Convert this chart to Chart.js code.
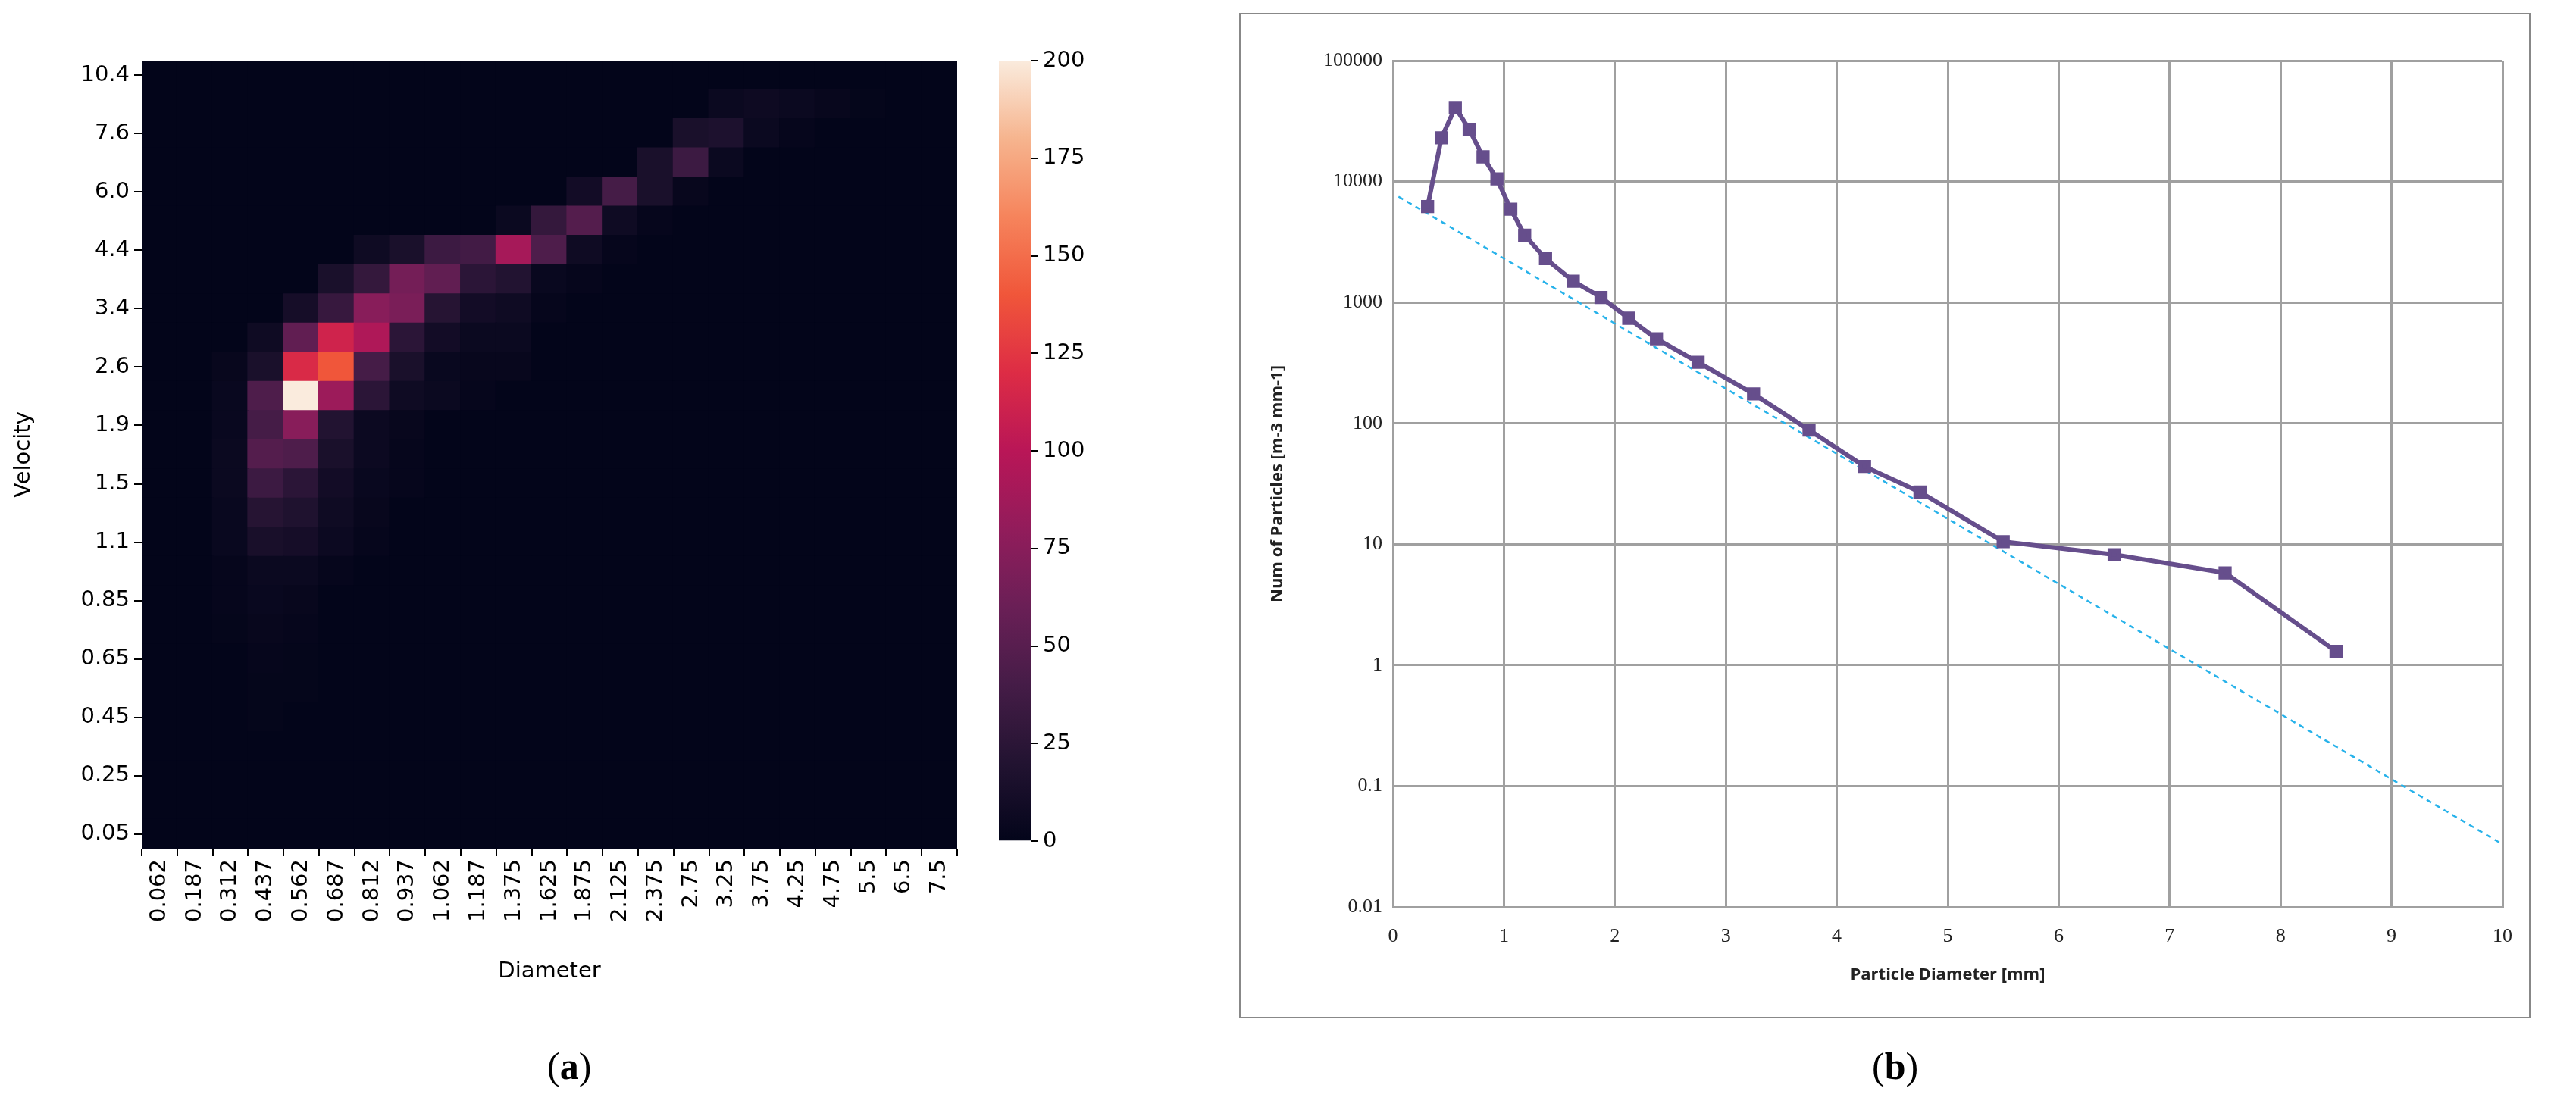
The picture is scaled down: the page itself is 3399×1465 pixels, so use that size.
<!DOCTYPE html>
<html><head><meta charset="utf-8">
<script src="https://cdn.jsdelivr.net/npm/chart.js@4"></script>
<style>
body{margin:0;width:3399px;height:1465px;background:#fff;position:relative;overflow:hidden}
canvas{position:absolute}
.lab{position:absolute;font-family:"Liberation Serif",serif;font-size:50px;color:#000}
#box{position:absolute;left:1635px;top:17px;width:1700px;height:1323px;border:2px solid #888}
</style></head><body>
<div id="box"></div>
<canvas id="hm" width="1300" height="1465" style="left:0;top:0"></canvas>
<canvas id="cb" width="220" height="1465" style="left:1318px;top:0"></canvas>
<canvas id="ln" width="1704" height="1327" style="left:1635px;top:17px"></canvas>
<div class="lab" style="left:722px;top:1378px">(<b>a</b>)</div>
<div class="lab" style="left:2470px;top:1378px">(<b>b</b>)</div>
<script>
const diameters=['0.062','0.187','0.312','0.437','0.562','0.687','0.812','0.937','1.062','1.187','1.375','1.625','1.875','2.125','2.375','2.75','3.25','3.75','4.25','4.75','5.5','6.5','7.5'];
// velocity classes, bottom to top
const velocities=['0.05','0.15','0.25','0.35','0.45','0.55','0.65','0.75','0.85','0.95','1.1','1.3','1.5','1.7','1.9','2.2','2.6','3.0','3.4','3.8','4.4','5.2','6.0','6.8','7.6','8.8','10.4'];
// counts, rows listed from top (10.4) to bottom (0.05), columns = diameters
const counts=[
[0,0,0,0,0,0,0,0,0,0,0,0,0,0,0,0,0,0,0,0,0,0,0],
[0,0,0,0,0,0,0,0,0,0,0,0,0,0,0,0,5,7,5,3,1,0,0],
[0,0,0,0,0,0,0,0,0,0,0,0,0,0,0,15,17,5,2,0,0,0,0],
[0,0,0,0,0,0,0,0,0,0,0,0,0,0,15,35,5,0,0,0,0,0,0],
[0,0,0,0,0,0,0,0,0,0,0,0,10,40,15,3,0,0,0,0,0,0,0],
[0,0,0,0,0,0,0,0,0,0,5,30,48,8,2,0,0,0,0,0,0,0,0],
[0,0,0,0,0,0,8,15,35,38,90,45,8,2,0,0,0,0,0,0,0,0,0],
[0,0,0,0,0,15,30,65,55,25,20,4,2,0,0,0,0,0,0,0,0,0,0],
[0,0,0,0,12,32,75,68,22,10,8,2,0,0,0,0,0,0,0,0,0,0,0],
[0,0,0,8,55,112,95,25,10,5,5,0,0,0,0,0,0,0,0,0,0,0,0],
[0,0,3,15,118,140,40,15,4,3,3,0,0,0,0,0,0,0,0,0,0,0,0],
[0,0,4,45,200,85,25,8,5,2,0,0,0,0,0,0,0,0,0,0,0,0,0],
[0,0,4,40,75,20,6,3,0,0,0,0,0,0,0,0,0,0,0,0,0,0,0],
[0,0,5,48,45,15,6,2,0,0,0,0,0,0,0,0,0,0,0,0,0,0,0],
[0,0,5,35,25,10,4,2,0,0,0,0,0,0,0,0,0,0,0,0,0,0,0],
[0,0,4,22,18,8,3,0,0,0,0,0,0,0,0,0,0,0,0,0,0,0,0],
[0,0,4,14,12,6,2,0,0,0,0,0,0,0,0,0,0,0,0,0,0,0,0],
[0,0,2,5,5,2,0,0,0,0,0,0,0,0,0,0,0,0,0,0,0,0,0],
[0,0,2,4,3,0,0,0,0,0,0,0,0,0,0,0,0,0,0,0,0,0,0],
[0,0,1,3,2,0,0,0,0,0,0,0,0,0,0,0,0,0,0,0,0,0,0],
[0,0,0,2,1,0,0,0,0,0,0,0,0,0,0,0,0,0,0,0,0,0,0],
[0,0,0,1,1,0,0,0,0,0,0,0,0,0,0,0,0,0,0,0,0,0,0],
[0,0,0,1,0,0,0,0,0,0,0,0,0,0,0,0,0,0,0,0,0,0,0],
[0,0,0,0,0,0,0,0,0,0,0,0,0,0,0,0,0,0,0,0,0,0,0],
[0,0,0,0,0,0,0,0,0,0,0,0,0,0,0,0,0,0,0,0,0,0,0],
[0,0,0,0,0,0,0,0,0,0,0,0,0,0,0,0,0,0,0,0,0,0,0],
[0,0,0,0,0,0,0,0,0,0,0,0,0,0,0,0,0,0,0,0,0,0,0]];
const vmax=200;
const rocket=[[3,5,26],[34,19,49],[69,28,71],[106,31,86],[146,28,91],[185,22,87],[221,44,69],[240,86,58],[246,132,92],[246,180,142],[250,235,221]];
function cmap(v){let t=Math.max(0,Math.min(1,v/vmax))*10;let i=Math.min(9,Math.floor(t));let f=t-i;const a=rocket[i],b=rocket[i+1];
return `rgb(${a.map((c,k)=>Math.round(c+(b[k]-c)*f)).join(',')})`;}

// line chart data
const psdDiam=[0.312,0.437,0.562,0.687,0.812,0.937,1.062,1.187,1.375,1.625,1.875,2.125,2.375,2.75,3.25,3.75,4.25,4.75,5.5,6.5,7.5,8.5];
const psdCount=[6200,23000,41000,27000,16000,10500,5900,3600,2300,1500,1100,740,500,320,175,88,44,27,10.5,8.2,5.8,1.3];
const fitDiam=[0.05,10];
const fitCount=[7500,0.033];
const logTicks=[0.01,0.1,1,10,100,1000,10000,100000];
const logLabels=['0.01','0.1','1','10','100','1000','10000','100000'];

const dj='DejaVu Sans';
const nRows=velocities.length;
const hmSets=velocities.map((v,k)=>({data:diameters.map(()=>1),
  backgroundColor:diameters.map((d,c)=>cmap(counts[nRows-1-k][c])),
  borderWidth:0,inflateAmount:1,barPercentage:1,categoryPercentage:1}));
new Chart(document.getElementById('hm'),{type:'bar',data:{labels:diameters,datasets:hmSets},
 options:{responsive:false,animation:false,layout:{padding:{top:80,right:37,bottom:165,left:14}},
 plugins:{legend:{display:false},tooltip:{enabled:false}},
 scales:{
  x:{stacked:true,grid:{display:true,drawOnChartArea:false,tickLength:10,color:'#000',lineWidth:2},border:{display:false},
     ticks:{font:{family:dj,size:29},color:'#000',maxRotation:90,minRotation:90,autoSkip:false,padding:4},
     title:{display:true,text:'Diameter',font:{family:dj,size:29},color:'#000',padding:0},
     afterFit:s=>{s.height=180}},
  y:{stacked:true,min:0,max:nRows,grid:{display:true,drawOnChartArea:false,tickLength:10,color:'#000',lineWidth:2},border:{display:false},
     afterBuildTicks:s=>{s.ticks=velocities.map((v,k)=>k).filter(k=>k%2===0).map(k=>({value:k+0.5}))},
     ticks:{font:{family:dj,size:29},color:'#000',padding:6,callback:v=>velocities[Math.floor(v)]},
     title:{display:true,text:'Velocity',font:{family:dj,size:29},color:'#000',padding:0},
     afterFit:s=>{s.width=173}}
 }}});

new Chart(document.getElementById('cb'),{type:'bar',data:{labels:[''],datasets:[{data:[[0,vmax]],barPercentage:1,categoryPercentage:1,borderWidth:0,
  backgroundColor:(ctx)=>{const ca=ctx.chart.chartArea;if(!ca)return '#000';const g=ctx.chart.ctx.createLinearGradient(0,ca.bottom,0,ca.top);
   for(let i=0;i<=20;i++)g.addColorStop(i/20,cmap(i/20*vmax));return g;}}]},
 options:{responsive:false,animation:false,layout:{padding:{top:80,right:0,bottom:355,left:0}},
 plugins:{legend:{display:false},tooltip:{enabled:false}},
 scales:{x:{display:false},
  y:{position:'right',min:0,max:vmax,grid:{display:true,drawOnChartArea:false,tickLength:10,color:'#000',lineWidth:2},border:{display:false},
   ticks:{stepSize:25,font:{family:dj,size:29},color:'#000',padding:6},afterFit:s=>{s.width=178}}}}});

const sf='Liberation Serif', bf='Open Sans';
new Chart(document.getElementById('ln'),{type:'scatter',data:{datasets:[
 {data:psdDiam.map((x,i)=>({x,y:psdCount[i]})),showLine:true,borderColor:'#664e8c',backgroundColor:'#664e8c',borderWidth:6,pointStyle:'rect',pointRadius:8},
 {data:fitDiam.map((x,i)=>({x,y:fitCount[i]})),showLine:true,borderColor:'#27b2ea',borderWidth:2.5,borderDash:[7,6],pointRadius:0}]},
 options:{responsive:false,animation:false,layout:{padding:{top:63,right:16,bottom:40,left:34}},
 plugins:{legend:{display:false},tooltip:{enabled:false}},
 scales:{
  x:{type:'linear',min:0,max:10,grid:{color:'#a0a0a0',lineWidth:3,drawTicks:false},border:{color:'#a0a0a0',width:3},
     ticks:{stepSize:1,font:{family:sf,size:26},color:'#222',padding:24},
     title:{display:true,text:'Particle Diameter [mm]',font:{family:bf,size:22,weight:'bold'},color:'#222',padding:{top:4}},
     afterFit:s=>{s.height=107}},
  y:{type:'logarithmic',min:0.01,max:100000,grid:{color:'#a0a0a0',lineWidth:3,drawTicks:false},border:{color:'#a0a0a0',width:3},
     afterBuildTicks:s=>{s.ticks=logTicks.map(v=>({value:v}))},
     ticks:{font:{family:sf,size:26},color:'#222',padding:14,callback:(v)=>logLabels[logTicks.indexOf(v)]},
     title:{display:true,text:'Num of Particles [m-3 mm-1]',font:{family:bf,size:22,weight:'bold'},color:'#222',padding:{bottom:4}},
     afterFit:s=>{s.width=169}}
 }}});
</script></body></html>
